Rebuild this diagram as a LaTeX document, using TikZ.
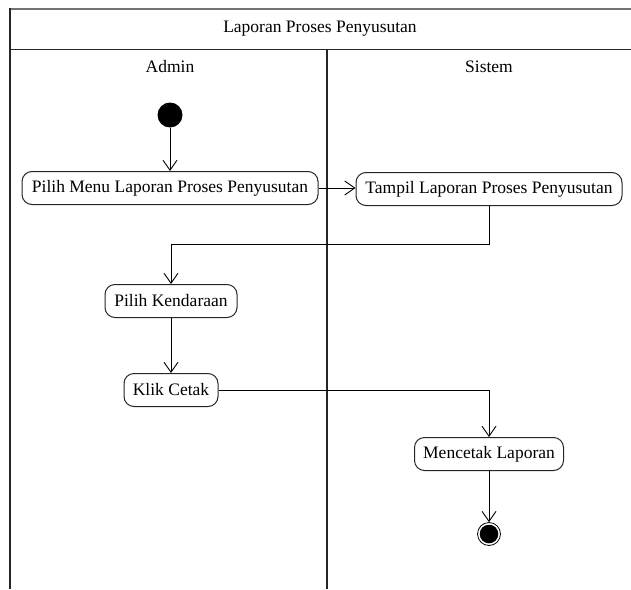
\documentclass[tikz,border=0pt]{standalone}
\usepackage{fontspec}
\setmainfont{Liberation Serif}
\usetikzlibrary{arrows.meta}
\begin{document}
\begin{tikzpicture}[x=1pt,y=-1pt,
  every node/.style={font=\fontsize{17.5}{20}\selectfont},
  action/.style={draw=black!85, line width=1pt, rounded corners=10pt,
    minimum height=33pt, inner xsep=8pt, inner ysep=0pt, fill=white},
  flow/.style={draw=black, line width=0.9pt,
    -{Straight Barb[length=10pt,width=14pt,line width=0.9pt]}},
  lane/.style={draw=black!85, line width=1.4pt},
  startdot/.style={circle, fill=black, minimum size=25pt, inner sep=0pt},
  enddot/.style={circle, draw=black, line width=0.8pt, minimum size=23pt, inner sep=0pt,
    path picture={\fill[black] (path picture bounding box.center) circle (9.3pt);}}
]
\useasboundingbox (0,0) rectangle (631,589);

% swimlane frame
\draw[draw=black!55, line width=2pt] (10,9) -- (631,9);
\draw[lane] (10,8) -- (10,589);
\draw[lane] (10,49.5) -- (631,49.5);
\draw[lane] (327,49.5) -- (327,589);

\node (title) at (320,29) {Laporan Proses Penyusutan};
\node (admin) at (170,67) {Admin};
\node (sistem) at (489,67) {Sistem};

% activities
\node[startdot] (start) at (170,115) {};
\node[action, minimum width=296pt] (menu) at (170,188) {Pilih Menu Laporan Proses Penyusutan};
\node[action, minimum width=266pt] (tampil) at (489,189) {Tampil Laporan Proses Penyusutan};
\node[action, minimum width=132pt] (kend) at (171,301) {Pilih Kendaraan};
\node[action, minimum width=94pt] (cetak) at (171,390) {Klik Cetak};
\node[action, minimum width=149pt] (mencetak) at (489,454) {Mencetak Laporan};
\node[enddot] (end) at (489,534) {};

% control flow
\draw[flow] (start) -- (menu);
\draw[flow] (menu.east) -- (tampil.west |- menu.east);
\draw[flow] (tampil.south) |- (171,244) -- (kend.north);
\draw[flow] (kend) -- (cetak);
\draw[flow] (cetak.east) -| (mencetak.north);
\draw[flow] (mencetak) -- (end);
\end{tikzpicture}
\end{document}
